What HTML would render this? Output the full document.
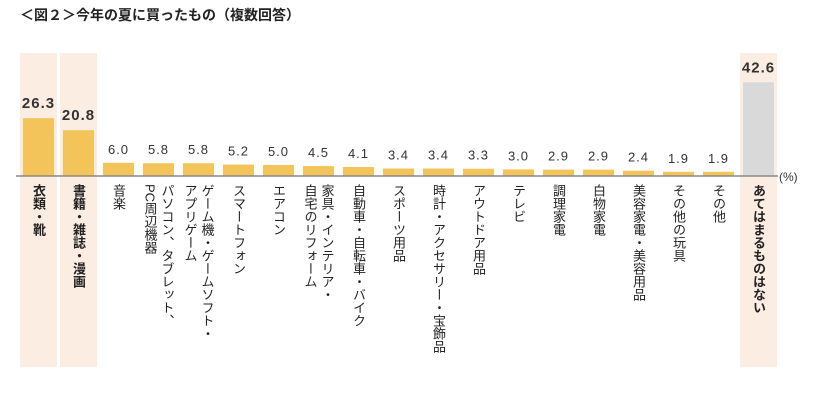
<!DOCTYPE html>
<html><head><meta charset="utf-8"><style>
body{margin:0;width:814px;height:413px;background:#fff;overflow:hidden;font-family:"Liberation Sans","Noto Sans CJK JP",sans-serif;}
#title{position:absolute;left:20px;top:5px;font-size:14px;font-weight:bold;color:#222;}
svg{position:absolute;left:0;top:0;}
.cat{position:absolute;top:184px;writing-mode:vertical-rl;font-size:13px;line-height:17px;color:#222;white-space:pre;transform:translateX(-50%);}
</style></head><body>
<div id="title">＜図２＞今年の夏に買ったもの（複数回答）</div>
<svg id="chart" width="814" height="413"></svg>
<div id="labels"></div>
<script>
const categories=["衣類・靴","書籍・雑誌・漫画","音楽","パソコン、タブレット、\nPC周辺機器","ゲーム機・ゲームソフト・\nアプリゲーム","スマートフォン","エアコン","家具・インテリア・\n自宅のリフォーム","自動車・自転車・バイク","スポーツ用品","時計・アクセサリー・宝飾品","アウトドア用品","テレビ","調理家電","白物家電","美容家電・美容用品","その他の玩具","その他","あてはまるものはない"];
const values=[26.3,20.8,6.0,5.8,5.8,5.2,5.0,4.5,4.1,3.4,3.4,3.3,3.0,2.9,2.9,2.4,1.9,1.9,42.6];
const highlighted=[0,1,18];
const NS="http://www.w3.org/2000/svg";
const svg=document.getElementById('chart');
const base=176, k=2.2, x0=23, pitch=40, bw=31;
const xs=i=>x0+pitch*i;
const ys=v=>base-v*k;
function mk(t,a){const e=document.createElementNS(NS,t);for(const n in a)e.setAttribute(n,a[n]);return e;}
highlighted.forEach(i=>{
 const r=mk('rect',{x:xs(i)-3,y:53,width:bw+6,height:314,fill:'#fcede3'});
 
 
 svg.appendChild(r);
});
const lab=document.getElementById('labels');
values.forEach((v,i)=>{
 const r=mk('rect',{x:xs(i),y:ys(v),width:bw,height:v*k,fill:i==18?'#d9d9d9':'#f2c45a'});
 
 
 svg.appendChild(r);
 const hl=highlighted.includes(i);
 const t=mk('text',{x:xs(i)+bw/2,y:ys(v)-(hl?10:9),'text-anchor':'middle','font-size':hl?15:13,'font-weight':hl?'bold':'normal',fill:'#333','letter-spacing':'1'});
 t.textContent=v.toFixed(1);
 
 
 svg.appendChild(t);
 const d=document.createElement('div');
 d.className='cat';
 d.style.left=(xs(i)+bw/2)+'px';
 if(hl)d.style.fontWeight='bold';
 d.textContent=categories[i];
 
 
 lab.appendChild(d);
});
const ax=mk('line',{x1:16,x2:778,y1:base,y2:base,stroke:'#888','stroke-width':1.5});


svg.appendChild(ax);
const u=mk('text',{x:779,y:base+5,'font-size':12,fill:'#333'});
u.textContent='(%)';


svg.appendChild(u);
</script>
</body></html>
